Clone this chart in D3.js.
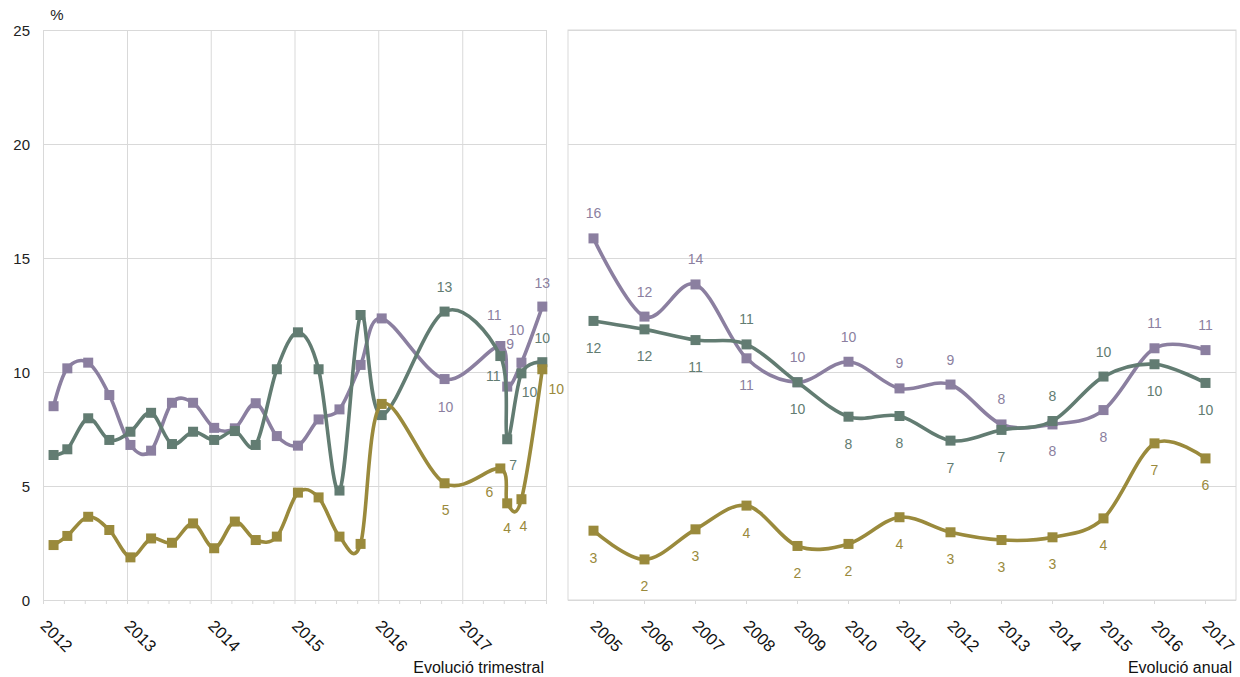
<!DOCTYPE html>
<html>
<head>
<meta charset="utf-8">
<script src="https://cdn.jsdelivr.net/npm/d3@7"></script>
<style>
  body { margin: 0; background: #fff; }
  svg { display: block; font-family: "Liberation Sans", Arial, sans-serif; }
</style>
</head>
<body>
<script>
// _____________ data
var quarterDates = ["2012-02", "2012-04", "2012-07", "2012-10", "2013-01", "2013-04", "2013-07", "2013-10",
	"2014-01", "2014-04", "2014-07", "2014-10", "2015-01", "2015-04", "2015-07", "2015-10",
	"2016-01", "2016-10", "2017-06", "2017-07", "2017-09", "2017-12"]
var quarterLilac = [8.5, 10.16, 10.41, 8.99, 6.8, 6.55, 8.65, 8.65, 7.55, 7.53, 8.63, 7.19, 6.77, 7.92, 8.36, 10.31,
	12.35, 9.69, 11.14, 9.36, 10.41, 12.87]
var quarterGreen = [6.36, 6.61, 7.97, 7.02, 7.38, 8.21, 6.84, 7.38, 7.02, 7.41, 6.8, 10.12, 11.74, 10.12, 4.8, 12.5,
	8.11, 12.65, 10.7, 7.05, 9.94, 10.43]
var quarterOlive = [2.41, 2.81, 3.65, 3.07, 1.87, 2.7, 2.51, 3.36, 2.27, 3.44, 2.63, 2.78, 4.71, 4.5, 2.78, 2.46,
	8.6, 5.12, 5.77, 4.24, 4.42, 10.12]

var years = ["2005", "2006", "2007", "2008", "2009", "2010", "2011", "2012", "2013", "2014", "2015", "2016", "2017"]
var annualLilac = [15.86, 12.43, 13.84, 10.6, 9.55, 10.45, 9.28, 9.45, 7.7, 7.7, 8.33, 11.04, 10.96]
var annualGreen = [12.24, 11.87, 11.4, 11.21, 9.55, 8.04, 8.07, 6.99, 7.46, 7.85, 9.8, 10.34, 9.52]
var annualOlive = [3.04, 1.78, 3.1, 4.14, 2.37, 2.46, 3.63, 2.97, 2.63, 2.75, 3.58, 6.87, 6.21]

var yTicks = [0, 5, 10, 15, 20, 25]

// _____________ label layout (only the last quarterly points carry a label)
var quarterLabelFrom = 17
var quarterLabelShift = {
	lilac: [[1, 28], [-6, -31], [3, -43], [-5, -33], [0, -24]],
	green: [[0, -25], [-7, 20], [6, 26], [8, 19], [0, -24]],
	olive: [[1, 27], [-11, 24], [0, 25], [2, 27], [14, 20]]
}
var annualLabelSide = {
	lilac: "aaabaaaaabbaa",
	green: "bbbabbbbbaabb",
	olive: "bbbbbbbbbbbbb"
}

var series = [
	{ key: "lilac", color: "#8b7fa0", quarter: quarterLilac, annual: annualLilac },
	{ key: "green", color: "#627c72", quarter: quarterGreen, annual: annualGreen },
	{ key: "olive", color: "#9a8a3c", quarter: quarterOlive, annual: annualOlive }
]

// _____________ scales
var width = 1240, height = 677
var gridColor = "#d9d9d9"
var parseMonth = d3.timeParse("%Y-%m")
function midMonth(s) {
	var d = parseMonth(s)
	return new Date(d.getFullYear(), d.getMonth(), 16)
}

var y = d3.scaleLinear().domain([0, 25]).range([600, 30])
var xq = d3.scaleTime()
	.domain([new Date(2012, 0, 1), new Date(2018, 0, 1)])
	.range([43, 546])
var xa = d3.scaleBand().domain(years).range([568, 1231])

var svg = d3.select("body").append("svg")
	.attr("width", width)
	.attr("height", height)

function greyAxis(g) {
	g.select(".domain").remove()
	g.selectAll(".tick line").attr("stroke", gridColor)
}

function yearLabels(g) {
	g.select(".domain").remove()
	g.selectAll("text")
		.attr("x", 0).attr("y", 0).attr("dy", 0)
		.attr("transform", "translate(-4,27) rotate(45)")
		.attr("fill", "#111")
		.style("text-anchor", "start")
		.style("font-size", "16.5px")
}

// _____________ left panel: grid, ticks, labels
svg.append("g")
	.attr("transform", "translate(43,0)")
	.call(d3.axisLeft(y).tickValues(yTicks).tickSize(-503).tickFormat(""))
	.call(greyAxis)

svg.append("g")
	.attr("transform", "translate(0,600)")
	.call(d3.axisBottom(xq).ticks(d3.timeYear.every(1)).tickSize(-570).tickFormat(""))
	.call(greyAxis)

svg.append("g")
	.attr("transform", "translate(0,600)")
	.call(d3.axisBottom(xq).ticks(d3.timeMonth.every(3)).tickSize(4).tickFormat(""))
	.call(greyAxis)

svg.append("g")
	.attr("transform", "translate(43,0)")
	.call(d3.axisLeft(y).tickValues(yTicks).tickSize(0).tickPadding(13))
	.call(function (g) {
		g.select(".domain").remove()
		g.selectAll("text").attr("fill", "#222").style("font-size", "15px")
			.attr("dy", "0.36em")
	})

svg.append("g")
	.attr("transform", "translate(0,600)")
	.call(d3.axisBottom(xq).tickValues(d3.timeYear.range(new Date(2012, 0, 1), new Date(2018, 0, 1)))
		.tickSize(0).tickFormat(d3.timeFormat("%Y")))
	.call(yearLabels)

svg.append("text")
	.attr("x", 57).attr("y", 20)
	.attr("text-anchor", "middle")
	.attr("fill", "#222")
	.style("font-size", "15px")
	.text("%")

svg.append("text")
	.attr("x", 544).attr("y", 673)
	.attr("text-anchor", "end")
	.attr("fill", "#111")
	.style("font-size", "16px")
	.text("Evolució trimestral")

// _____________ right panel: frame, grid, ticks, labels
svg.append("rect")
	.attr("x", 568).attr("y", 30)
	.attr("width", 668).attr("height", 570)
	.attr("fill", "none")
	.attr("stroke", gridColor)

svg.append("g")
	.attr("transform", "translate(568,0)")
	.call(d3.axisLeft(y).tickValues(yTicks).tickSize(-668).tickFormat(""))
	.call(greyAxis)

svg.append("g")
	.attr("transform", "translate(0,600)")
	.call(d3.axisBottom(xa).tickSize(4).tickFormat(""))
	.call(greyAxis)

svg.append("g")
	.attr("transform", "translate(0,600)")
	.call(d3.axisBottom(xa).tickSize(0))
	.call(yearLabels)

svg.append("text")
	.attr("x", 1232).attr("y", 673)
	.attr("text-anchor", "end")
	.attr("fill", "#111")
	.style("font-size", "16px")
	.text("Evolució anual")

// _____________ series
var smooth = d3.curveCardinal.tension(0)
var marker = 10

series.forEach(function (s) {
	var qPoints = quarterDates.map(function (d, i) {
		return { x: xq(midMonth(d)), y: y(s.quarter[i]), value: s.quarter[i], i: i }
	})
	var aPoints = years.map(function (d, i) {
		return { x: xa(d) + xa.bandwidth() / 2, y: y(s.annual[i]), value: s.annual[i], i: i }
	})

	var line = d3.line()
		.x(function (d) { return d.x })
		.y(function (d) { return d.y })
		.curve(smooth)

	var g = svg.append("g").attr("class", "series-" + s.key)

	;[qPoints, aPoints].forEach(function (pts) {
		g.append("path")
			.datum(pts)
			.attr("d", line)
			.attr("fill", "none")
			.attr("stroke", s.color)
			.attr("stroke-width", 3.6)
			.attr("stroke-linejoin", "round")

		g.append("g").selectAll("rect")
			.data(pts)
			.join("rect")
				.attr("x", function (d) { return d.x - marker / 2 })
				.attr("y", function (d) { return d.y - marker / 2 })
				.attr("width", marker)
				.attr("height", marker)
				.attr("fill", s.color)
	})

	var labels = g.append("g")
		.attr("fill", s.color)
		.style("font-size", "14px")
		.attr("text-anchor", "middle")

	labels.selectAll("text.q")
		.data(qPoints.slice(quarterLabelFrom))
		.join("text")
			.attr("class", "q")
			.attr("x", function (d, i) { return d.x + quarterLabelShift[s.key][i][0] })
			.attr("y", function (d, i) { return d.y + quarterLabelShift[s.key][i][1] })
			.attr("dy", "0.36em")
			.text(function (d) { return Math.round(d.value) })

	labels.selectAll("text.a")
		.data(aPoints)
		.join("text")
			.attr("class", "a")
			.attr("x", function (d) { return d.x })
			.attr("y", function (d, i) { return d.y + (annualLabelSide[s.key][i] == "a" ? -25 : 27) })
			.attr("dy", "0.36em")
			.text(function (d) { return Math.round(d.value) })
})
</script>
</body>
</html>
